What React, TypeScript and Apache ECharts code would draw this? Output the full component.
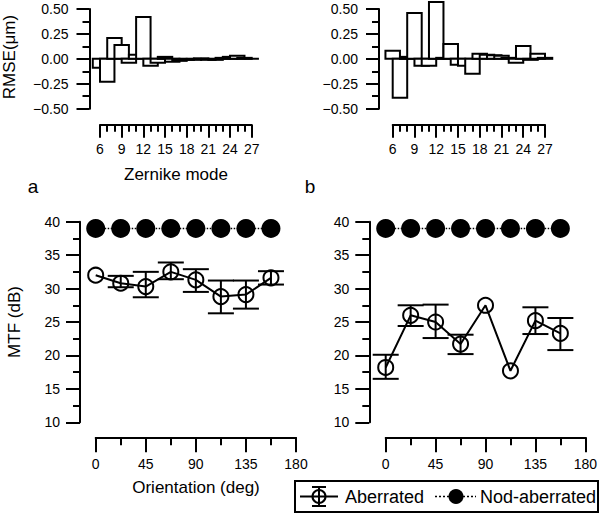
import React, { useEffect, useRef } from "react";
import * as echarts from "echarts";

// ---- Data ----
const modes = [6, 7, 8, 9, 10, 11, 12, 13, 14, 15, 16, 17, 18, 19, 20, 21, 22, 23, 24, 25, 26, 27];
const rmseA = [-0.09, -0.23, 0.21, 0.14, -0.04, 0.04, 0.42, -0.07, -0.04, 0.02, -0.03, -0.02, -0.01, -0.01, 0.005, -0.01, -0.01, 0.01, 0.02, 0.03, 0.01, 0.0];
const rmseB = [0.08, -0.39, 0.02, 0.46, -0.07, -0.07, 0.57, 0.01, 0.15, -0.06, -0.07, -0.15, 0.05, 0.04, 0.035, 0.03, 0.01, -0.04, 0.13, -0.01, 0.05, 0.01];

const orientations = [0, 22.5, 45, 67.5, 90, 112.5, 135, 157.5];
const aberratedA = [32.0, 30.8, 30.3, 32.5, 31.3, 28.8, 29.1, 31.6];
const errLowA = [null, 30.2, 28.7, 31.4, 29.5, 26.3, 27.0, 30.6];
const errHighA = [null, 31.9, 32.5, 33.9, 32.9, 31.2, 31.2, 32.6];
const nonAberratedA = [39, 39, 39, 39, 39, 39, 39, 39];

const aberratedB = [18.2, 26.0, 25.0, 21.7, 27.5, 17.7, 25.2, 23.3];
const errLowB = [16.5, 24.4, 22.6, 20.2, null, null, 23.2, 20.8];
const errHighB = [20.1, 27.5, 27.6, 23.1, null, null, 27.2, 25.6];
const nonAberratedB = [39, 39, 39, 39, 39, 39, 39, 39];

const panelLabels = ["a", "b"];
const legendNames = ["Aberrated", "Nod-aberrated"];

const FONT = "Liberation Sans, Arial, Helvetica, sans-serif";
const BLACK = "#000";

function barItem(params: any, api: any) {
  const m = api.value(0);
  const v = api.value(1);
  const p1 = api.coord([m - 1, v]);
  const p2 = api.coord([m + 1, 0]);
  return {
    type: "rect",
    shape: {
      x: Math.min(p1[0], p2[0]),
      y: Math.min(p1[1], p2[1]),
      width: Math.abs(p2[0] - p1[0]),
      height: Math.abs(p2[1] - p1[1]),
    },
    style: { fill: "#fff", stroke: BLACK, lineWidth: 2 },
  };
}

function errItem(params: any, api: any) {
  const x = api.value(0);
  const lo = api.value(1);
  const hi = api.value(2);
  const pLo = api.coord([x, lo]);
  const pHi = api.coord([x, hi]);
  const hw = 13;
  const st = { stroke: BLACK, lineWidth: 2 };
  return {
    type: "group",
    children: [
      { type: "line", shape: { x1: pLo[0], y1: pLo[1], x2: pHi[0], y2: pHi[1] }, style: st },
      { type: "line", shape: { x1: pLo[0] - hw, y1: pLo[1], x2: pLo[0] + hw, y2: pLo[1] }, style: st },
      { type: "line", shape: { x1: pHi[0] - hw, y1: pHi[1], x2: pHi[0] + hw, y2: pHi[1] }, style: st },
    ],
  };
}

function errData(lo: (number | null)[], hi: (number | null)[]) {
  const out: number[][] = [];
  orientations.forEach((o, i) => {
    if (lo[i] != null && hi[i] != null) out.push([o, lo[i] as number, hi[i] as number]);
  });
  return out;
}

const axLine = { show: true, onZero: false, lineStyle: { color: BLACK, width: 2 } };
const lbl = (margin: number, extra: any = {}) => ({
  margin,
  fontSize: 14,
  color: BLACK,
  fontFamily: FONT,
  ...extra,
});

function topX(gridIndex: number) {
  return {
    gridIndex,
    type: "value",
    min: 6,
    max: 27,
    interval: 3,
    position: "bottom",
    offset: 16,
    axisLine: axLine,
    axisTick: { show: true, length: 13, lineStyle: { color: BLACK, width: 2 } },
    minorTick: { show: true, splitNumber: 3, length: 7, lineStyle: { color: BLACK, width: 2 } },
    axisLabel: lbl(17),
    splitLine: { show: false },
    minorSplitLine: { show: false },
  };
}
function topY(gridIndex: number, offset: number) {
  return {
    gridIndex,
    type: "value",
    min: -0.5,
    max: 0.5,
    interval: 0.25,
    position: "left",
    offset,
    axisLine: axLine,
    axisTick: { show: true, length: 13, lineStyle: { color: BLACK, width: 2 } },
    minorTick: { show: true, splitNumber: 2, length: 7, lineStyle: { color: BLACK, width: 2 } },
    axisLabel: lbl(21, { formatter: (v: number) => v.toFixed(2).replace("-", "\u2212") }),
    splitLine: { show: false },
  };
}
function botX(gridIndex: number) {
  return {
    gridIndex,
    type: "value",
    min: 0,
    max: 180,
    interval: 45,
    position: "bottom",
    offset: 15,
    axisLine: axLine,
    axisTick: { show: true, length: 15, lineStyle: { color: BLACK, width: 2 } },
    minorTick: { show: true, splitNumber: 2, length: 8, lineStyle: { color: BLACK, width: 2 } },
    axisLabel: lbl(20),
    splitLine: { show: false },
  };
}
function botY(gridIndex: number, offset: number) {
  return {
    gridIndex,
    type: "value",
    min: 10,
    max: 40,
    interval: 5,
    position: "left",
    offset,
    axisLine: axLine,
    axisTick: { show: true, length: 14, lineStyle: { color: BLACK, width: 2 } },
    minorTick: { show: true, splitNumber: 2, length: 7, lineStyle: { color: BLACK, width: 2 } },
    axisLabel: lbl(20),
    splitLine: { show: false },
  };
}

function lineSeries(idx: number, ab: number[], non: number[], lo: (number | null)[], hi: (number | null)[]) {
  return [
    {
      name: legendNames[1],
      type: "line",
      xAxisIndex: idx,
      yAxisIndex: idx,
      data: orientations.map((o, i) => [o, non[i]]),
      symbol: "circle",
      symbolSize: 19,
      itemStyle: { color: BLACK },
      lineStyle: { color: BLACK, width: 1.5, type: "dotted" },
      z: 3,
    },
    {
      name: legendNames[0],
      type: "line",
      xAxisIndex: idx,
      yAxisIndex: idx,
      data: orientations.map((o, i) => [o, ab[i]]),
      symbol: "circle",
      symbolSize: 15,
      itemStyle: { color: "rgba(0,0,0,0)", borderColor: BLACK, borderWidth: 2 },
      lineStyle: { color: BLACK, width: 2 },
      z: 3,
    },
    {
      type: "custom",
      xAxisIndex: idx,
      yAxisIndex: idx,
      data: errData(lo, hi),
      renderItem: errItem,
      z: 4,
    },
  ];
}

const textStyle = (size: number) => ({ font: `${size}px ${FONT}`, fill: BLACK });

export default function App() {
  const ref = useRef<HTMLDivElement>(null);
  useEffect(() => {
    if (!ref.current) return;
    const chart = echarts.init(ref.current, null, { renderer: "svg" });
    const option: any = {
      animation: false,
      backgroundColor: "#fff",
      grid: [
        { left: 100, top: 9, width: 151.7, height: 99.7 },
        { left: 392.7, top: 9, width: 152.3, height: 99.7 },
        { left: 95.7, top: 221.7, width: 200.3, height: 200.6 },
        { left: 385.7, top: 221.7, width: 200.3, height: 200.6 },
      ],
      xAxis: [topX(0), topX(1), botX(2), botX(3)],
      yAxis: [topY(0, 10.5), topY(1, 13.7), botY(2, 15.7), botY(3, 16.4)],
      series: [
        {
          type: "custom",
          xAxisIndex: 0,
          yAxisIndex: 0,
          data: modes.map((m, i) => [m, rmseA[i]]),
          renderItem: barItem,
          clip: false,
        },
        {
          type: "custom",
          xAxisIndex: 1,
          yAxisIndex: 1,
          data: modes.map((m, i) => [m, rmseB[i]]),
          renderItem: barItem,
          clip: false,
        },
        ...lineSeries(2, aberratedA, nonAberratedA, errLowA, errHighA),
        ...lineSeries(3, aberratedB, nonAberratedB, errLowB, errHighB),
      ],
      graphic: [
        {
          type: "text",
          x: 9,
          y: 57,
          rotation: Math.PI / 2,
          style: { ...textStyle(17), text: "RMSE(\u03bcm)", align: "center", verticalAlign: "middle" },
        },
        {
          type: "text",
          x: 176,
          y: 174,
          style: { ...textStyle(17), text: "Zernike mode", align: "center", verticalAlign: "middle" },
        },
        {
          type: "text",
          x: 14,
          y: 322,
          rotation: Math.PI / 2,
          style: { ...textStyle(17), text: "MTF (dB)", align: "center", verticalAlign: "middle" },
        },
        {
          type: "text",
          x: 196,
          y: 487,
          style: { ...textStyle(17), text: "Orientation (deg)", align: "center", verticalAlign: "middle" },
        },
        {
          type: "text",
          x: 33,
          y: 186,
          style: { ...textStyle(19), text: panelLabels[0], align: "center", verticalAlign: "middle" },
        },
        {
          type: "text",
          x: 310,
          y: 186,
          style: { ...textStyle(19), text: panelLabels[1], align: "center", verticalAlign: "middle" },
        },
        // legend box
        {
          type: "rect",
          shape: { x: 295, y: 481, width: 303, height: 31 },
          style: { fill: "#fff", stroke: BLACK, lineWidth: 2 },
        },
        { type: "line", shape: { x1: 300, y1: 496.5, x2: 338, y2: 496.5 }, style: { stroke: BLACK, lineWidth: 2 } },
        { type: "circle", shape: { cx: 319, cy: 496.5, r: 6.5 }, style: { fill: "none", stroke: BLACK, lineWidth: 2 } },
        { type: "line", shape: { x1: 319, y1: 487, x2: 319, y2: 506 }, style: { stroke: BLACK, lineWidth: 2 } },
        { type: "line", shape: { x1: 312, y1: 487, x2: 326, y2: 487 }, style: { stroke: BLACK, lineWidth: 2 } },
        { type: "line", shape: { x1: 312, y1: 506, x2: 326, y2: 506 }, style: { stroke: BLACK, lineWidth: 2 } },
        {
          type: "text",
          x: 345,
          y: 497,
          style: { ...textStyle(18), text: legendNames[0], align: "left", verticalAlign: "middle" },
        },
        {
          type: "line",
          shape: { x1: 435, y1: 496.5, x2: 476, y2: 496.5 },
          style: { stroke: BLACK, lineWidth: 1.5, lineDash: [2, 2] },
        },
        { type: "circle", shape: { cx: 456, cy: 496.5, r: 7.5 }, style: { fill: BLACK } },
        {
          type: "text",
          x: 480,
          y: 497,
          style: { ...textStyle(18), text: legendNames[1], align: "left", verticalAlign: "middle" },
        },
      ],
    };
    chart.setOption(option);
    return () => chart.dispose();
  }, []);
  return (
    <div
      ref={ref}
      style={{ position: "absolute", left: 0, top: 0, width: 600, height: 514 }}
    />
  );
}
